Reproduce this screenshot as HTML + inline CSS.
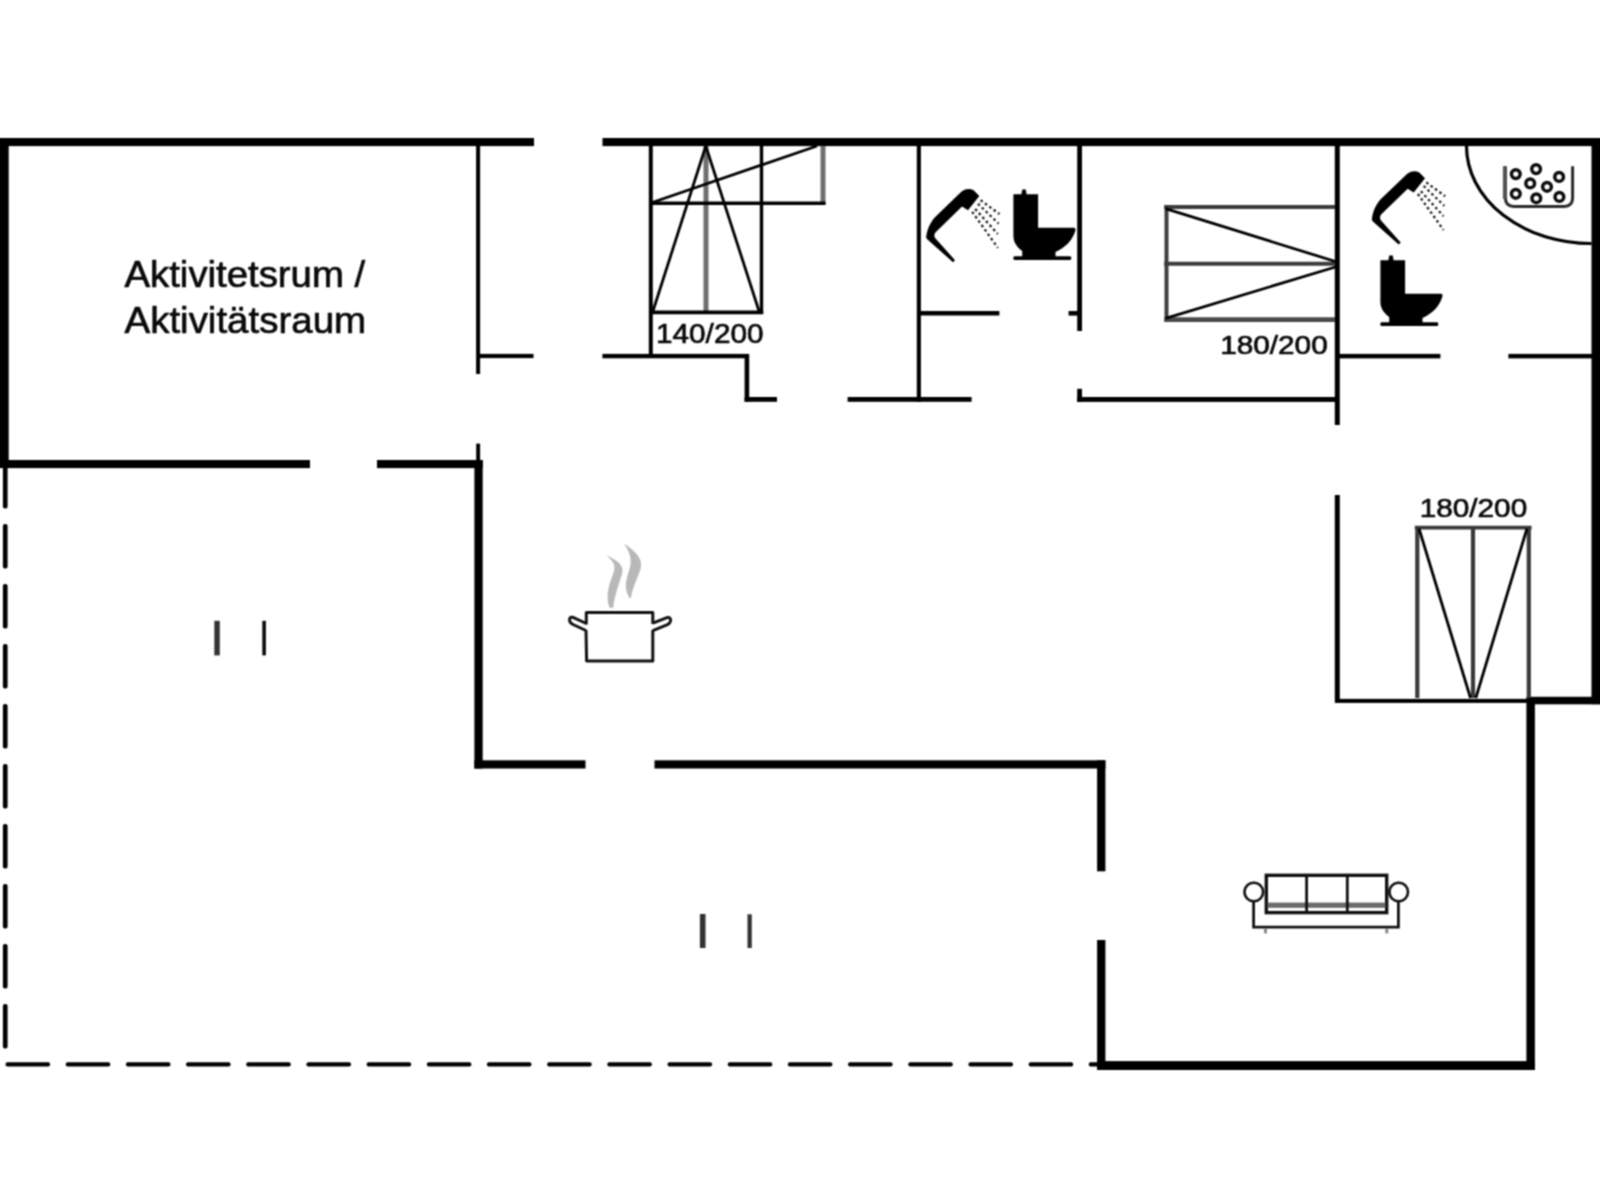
<!DOCTYPE html>
<html>
<head>
<meta charset="utf-8">
<title>Floor plan</title>
<style>
html,body{margin:0;padding:0;background:#fff;}
body{width:1600px;height:1200px;overflow:hidden;font-family:"Liberation Sans",sans-serif;}
svg{display:block;position:absolute;left:0;top:0;}
text{font-family:"Liberation Sans",sans-serif;fill:#0a0a0a;stroke:#0a0a0a;stroke-width:0.7px;stroke-linejoin:round;}
</style>
</head>
<body>
<svg width="1600" height="1200" viewBox="0 0 1600 1200">
<rect x="0" y="0" width="1600" height="1200" fill="#ffffff"/>
<filter id="soft" filterUnits="userSpaceOnUse" x="-20" y="-20" width="1640" height="1240" color-interpolation-filters="sRGB">
  <feConvolveMatrix order="3" kernelMatrix="1 2 1 2 4 2 1 2 1" divisor="16" edgeMode="duplicate" preserveAlpha="true"/>
</filter>
<g filter="url(#soft)">
<rect x="-20" y="-20" width="1640" height="1240" fill="#ffffff"/>

<!-- ===== thick outer walls ===== -->
<g id="thick" fill="#000">
  <rect x="-10" y="138" width="544" height="8.1"/>
  <rect x="602.5" y="138" width="1007.5" height="8.1"/>
  <rect x="-10" y="138" width="18.7" height="330"/>
  <rect x="1591.5" y="138" width="18.5" height="566.2"/>
  <rect x="-10" y="460" width="320" height="8.1"/>
  <rect x="377" y="460" width="105.7" height="8.1"/>
  <rect x="474.4" y="460" width="8.3" height="308.5"/>
  <rect x="474.4" y="760.3" width="111.1" height="8.2"/>
  <rect x="654.5" y="760.3" width="450.9" height="8.2"/>
  <rect x="1097.1" y="760.3" width="8.3" height="111"/>
  <rect x="1097.1" y="940" width="8.3" height="130"/>
  <rect x="1097.1" y="1061.1" width="437.8" height="8.9"/>
  <rect x="1526.4" y="697" width="8.5" height="373"/>
  <rect x="1527" y="696.8" width="83" height="7.5"/>
</g>

<!-- ===== thin inner walls ===== -->
<g id="thin" fill="#000">
  <rect x="476.1" y="146" width="4" height="228"/>
  <rect x="476.2" y="443.6" width="3.9" height="17"/>
  <rect x="480" y="353.9" width="53.5" height="4.2"/>
  <rect x="602.4" y="353.9" width="146.4" height="4.4"/>
  <rect x="744.6" y="354" width="4.6" height="47.6"/>
  <rect x="744.6" y="397" width="32.4" height="4.8"/>
  <rect x="847.6" y="397" width="124" height="4.8"/>
  <rect x="648.8" y="146" width="4" height="209"/>
  <rect x="916.8" y="146" width="4.1" height="255.8"/>
  <rect x="920" y="311" width="79.4" height="4.5"/>
  <rect x="1068.6" y="311" width="10" height="4.6"/>
  <rect x="1077.2" y="146" width="4.8" height="185"/>
  <rect x="1077.2" y="388.8" width="4.8" height="13"/>
  <rect x="1077.2" y="397" width="258" height="4.9"/>
  <rect x="1334.8" y="146" width="5" height="279"/>
  <rect x="1334.8" y="495" width="5" height="207.5"/>
  <rect x="1339" y="353.9" width="101.4" height="4.5"/>
  <rect x="1508.4" y="353.9" width="83.6" height="4.5"/>
  <rect x="1335" y="698.9" width="193" height="4"/>
</g>

<g id="dashes" fill="#000">
  <rect x="2.9" y="464.0" width="4.7" height="44.4" rx="2"/>
  <rect x="2.9" y="524.0" width="4.7" height="44.4" rx="2"/>
  <rect x="2.9" y="584.0" width="4.7" height="44.4" rx="2"/>
  <rect x="2.9" y="644.0" width="4.7" height="44.4" rx="2"/>
  <rect x="2.9" y="704.0" width="4.7" height="44.4" rx="2"/>
  <rect x="2.9" y="764.0" width="4.7" height="44.4" rx="2"/>
  <rect x="2.9" y="824.0" width="4.7" height="44.4" rx="2"/>
  <rect x="2.9" y="884.0" width="4.7" height="44.4" rx="2"/>
  <rect x="2.9" y="944.0" width="4.7" height="44.4" rx="2"/>
  <rect x="2.9" y="1004.0" width="4.7" height="44.4" rx="2"/>
  <rect x="5.5" y="1062.3" width="44.6" height="4.3" rx="2"/>
  <rect x="65.7" y="1062.3" width="44.6" height="4.3" rx="2"/>
  <rect x="125.9" y="1062.3" width="44.6" height="4.3" rx="2"/>
  <rect x="186.0" y="1062.3" width="44.6" height="4.3" rx="2"/>
  <rect x="246.2" y="1062.3" width="44.6" height="4.3" rx="2"/>
  <rect x="306.4" y="1062.3" width="44.6" height="4.3" rx="2"/>
  <rect x="366.6" y="1062.3" width="44.6" height="4.3" rx="2"/>
  <rect x="426.8" y="1062.3" width="44.6" height="4.3" rx="2"/>
  <rect x="486.9" y="1062.3" width="44.6" height="4.3" rx="2"/>
  <rect x="547.1" y="1062.3" width="44.6" height="4.3" rx="2"/>
  <rect x="607.3" y="1062.3" width="44.6" height="4.3" rx="2"/>
  <rect x="667.5" y="1062.3" width="44.6" height="4.3" rx="2"/>
  <rect x="727.7" y="1062.3" width="44.6" height="4.3" rx="2"/>
  <rect x="787.8" y="1062.3" width="44.6" height="4.3" rx="2"/>
  <rect x="848.0" y="1062.3" width="44.6" height="4.3" rx="2"/>
  <rect x="908.2" y="1062.3" width="44.6" height="4.3" rx="2"/>
  <rect x="968.4" y="1062.3" width="44.6" height="4.3" rx="2"/>
  <rect x="1028.6" y="1062.3" width="44.6" height="4.3" rx="2"/>
  <rect x="1088.7" y="1062.3" width="11.3" height="4.3" rx="2"/>
</g>
<!-- small door marks -->
<g id="marks" fill="#333">
  <rect x="214.3" y="620.8" width="5.5" height="34.6"/>
  <rect x="262.3" y="620.8" width="3.6" height="34.6" fill="#0a0a0a"/>
  <rect x="699.9" y="914" width="5.6" height="34"/>
  <rect x="747.5" y="914.3" width="4.3" height="33.7"/>
</g>

<!-- bed 1 : 140/200 (with upper bunk) -->
<g id="bed1" fill="none" stroke="#000" stroke-width="3.4" stroke-linecap="butt">
  <line x1="706" y1="146" x2="706" y2="312" stroke="#6e6e6e" stroke-width="5"/>
  <line x1="823" y1="146" x2="823" y2="205" stroke="#6e6e6e" stroke-width="5"/>
  <line x1="761.5" y1="146" x2="761.5" y2="314"/>
  <line x1="652" y1="312.3" x2="763.2" y2="312.3" stroke-width="3.8"/>
  <line x1="652" y1="203.3" x2="825.5" y2="203.3" stroke-width="3.6"/>
  <line x1="705.8" y1="146" x2="653" y2="311" stroke-width="2.8"/>
  <line x1="705.8" y1="146" x2="759" y2="311" stroke-width="2.8"/>
  <line x1="651.5" y1="202.8" x2="817" y2="146" stroke-width="2.8"/>
</g>
<text x="656" y="342.5" font-size="28" textLength="107.5" lengthAdjust="spacingAndGlyphs">140/200</text>

<!-- bed 2 : 180/200 horizontal -->
<g id="bed2" fill="none" stroke="#3c3c3c" stroke-width="4">
  <line x1="1164.2" y1="207.1" x2="1335" y2="207.1"/>
  <line x1="1166.5" y1="205.1" x2="1166.5" y2="322"/>
  <line x1="1164.2" y1="263.7" x2="1335" y2="263.7"/>
  <line x1="1164.2" y1="319.6" x2="1335" y2="319.6" stroke-width="4.8" stroke="#4a4a4a"/>
  <line x1="1165.5" y1="208.7" x2="1335.5" y2="261.5" stroke="#000" stroke-width="2.8"/>
  <line x1="1165.5" y1="318.3" x2="1335.5" y2="267" stroke="#000" stroke-width="2.8"/>
</g>
<text x="1220.2" y="353.5" font-size="26.5" textLength="107.5" lengthAdjust="spacingAndGlyphs">180/200</text>

<!-- bed 3 : 180/200 vertical -->
<g id="bed3" fill="none" stroke="#3a3a3a" stroke-width="4.2">
  <line x1="1414.8" y1="527.6" x2="1531.6" y2="527.6" stroke-width="3.6"/>
  <line x1="1417.3" y1="526" x2="1417.3" y2="698"/>
  <line x1="1528.8" y1="526" x2="1528.8" y2="698"/>
  <line x1="1473" y1="526" x2="1473" y2="698"/>
  <line x1="1419" y1="528.5" x2="1470.5" y2="698" stroke="#000" stroke-width="2.8"/>
  <line x1="1527" y1="528.5" x2="1475.8" y2="698" stroke="#000" stroke-width="2.8"/>
</g>
<text x="1419.7" y="517.3" font-size="26.5" textLength="107.5" lengthAdjust="spacingAndGlyphs">180/200</text>

<!-- room label -->
<text x="124.5" y="286.5" font-size="37.6" textLength="240.6" lengthAdjust="spacingAndGlyphs">Aktivitetsrum /</text>
<text x="124.5" y="333" font-size="37.6" textLength="241.6" lengthAdjust="spacingAndGlyphs">Aktivitätsraum</text>


<defs>
  <g id="shower">
    <path fill="#000" d="M953,262.2 L927.2,239.2 Q925.6,237.6 926.4,235.4 C927.5,228 931,221.5 935.2,216.9 L961.6,191.5 Q967.5,187.4 973.6,190.2 L979.3,196.1 L968,210.3 L962,206.6 L935.4,232.4 Q933.3,235.4 935.3,238.2 L955,260.2 Z"/>
    <g fill="none" stroke="#1a1a1a" stroke-width="2.3" stroke-dasharray="2.5 2.9">
      <line x1="980.6" y1="200.2" x2="999.4" y2="214"/>
      <line x1="978" y1="203.8" x2="998.6" y2="223.6"/>
      <line x1="975.2" y1="209" x2="997.8" y2="234"/>
      <line x1="972.2" y1="211.8" x2="997.8" y2="247.8"/>
    </g>
  </g>
  <g id="toilet">
    <path fill="#000" d="M1380.4,260.3 L1388.4,260.3 L1389.2,255.4 L1392.8,255.4 L1393.6,260.3 L1405.1,260.3 L1405.1,293.7 L1441,293.7 Q1443.2,294.1 1442.2,297.2 C1439,307 1432,313.5 1422.5,318 L1422.5,322.2 L1437.4,322.2 Q1439.4,324.1 1437.4,326 L1381.2,326 Q1379.2,324.1 1381.2,322.2 L1389.2,322.2 L1389.2,317 C1383.6,313 1380.4,308 1380.4,302 Z"/>
  </g>
</defs>

<!-- showers -->
<use href="#shower"/>
<use href="#shower" transform="translate(445.7,-17.8)"/>
<!-- toilets -->
<use href="#toilet" transform="translate(-367,-66)"/>
<use href="#toilet"/>

<!-- whirlpool corner -->
<path d="M1466.5,146 A124.5,97.5 0 0 0 1591.5,243.5" fill="none" stroke="#000" stroke-width="3.2"/>
<g id="whirl" fill="none">
  <path d="M1505.4,166.3 L1505.4,198 Q1505.4,206.4 1514,206.4 L1564,206.4 Q1572.6,206.4 1572.6,198 L1572.6,166.3" stroke="#2a2a2a" stroke-width="3"/>
  <line x1="1504.6" y1="166.3" x2="1504.6" y2="199" stroke="#555" stroke-width="3.4"/>
  <g stroke="#0c0c0c" stroke-width="3.5">
    <circle cx="1515.8" cy="174.1" r="4.35"/>
    <circle cx="1536.1" cy="169.1" r="4.35"/>
    <circle cx="1559.1" cy="176.9" r="4.35"/>
    <circle cx="1530.2" cy="183.4" r="4.35"/>
    <circle cx="1547" cy="186.8" r="4.35"/>
    <circle cx="1515.8" cy="193.8" r="4.35"/>
    <circle cx="1536.3" cy="198.3" r="4.35"/>
    <circle cx="1559.4" cy="196.9" r="4.35"/>
  </g>
</g>

<!-- cooking pot -->
<g id="pot">
  <path fill="#b8b8b8" d="M609.5,607.8 C606,598 607.5,588 612.9,574.4 C615.5,568 616,563 606.1,555.2 C617,560 623.5,565 622.4,572.1 C621.5,578 615,592 613.2,607.8 Z"/>
  <path fill="#b8b8b8" d="M629.7,598.2 C624.5,590 625,583 628.6,572.1 C631.5,563 632.5,556 624.1,543.4 C636,552 642,558 641,566.5 C640,574 632.5,586 631,597.6 Z"/>
  <g fill="none" stroke="#111" stroke-width="3" stroke-linejoin="round">
    <path d="M586.3,624.5 L586.3,612.6 L652.8,612.6 L652.8,624"/>
    <path d="M586,630 L586.6,661 L652.8,661 L652.8,630"/>
    <path d="M586.3,623.5 L573,617.3 Q569.2,616.5 569.6,620.5 Q570,623 573,624.5 L586,630.5"/>
    <path d="M652.8,623.2 L667,617.6 Q671,617 670.6,620.8 Q670.2,623.2 667.5,624.6 L652.8,630.6"/>
  </g>
</g>

<!-- sofa -->
<g id="sofa" fill="none">
  <circle cx="1253.8" cy="892" r="9.3" stroke="#111" stroke-width="2.6"/>
  <circle cx="1398.7" cy="892" r="9.3" stroke="#111" stroke-width="2.6"/>
  <path d="M1253.6,901 L1253.6,927.2 L1398.4,927.2 L1398.4,901" stroke="#111" stroke-width="2.8"/>
  <rect x="1264" y="929" width="3" height="4.4" fill="#8a8a8a"/>
  <rect x="1385.3" y="929" width="3" height="4.4" fill="#8a8a8a"/>
  <rect x="1266.3" y="875.3" width="120.4" height="37.3" fill="#fff" stroke="#111" stroke-width="3.4"/>
  <rect x="1267.5" y="902.6" width="118" height="5.2" fill="#6a6a6a"/>
  <line x1="1306.6" y1="875" x2="1306.6" y2="913" stroke="#111" stroke-width="2.8"/>
  <line x1="1347.3" y1="875" x2="1347.3" y2="913" stroke="#111" stroke-width="2.8"/>
</g>



</g>
</svg>
</body>
</html>
